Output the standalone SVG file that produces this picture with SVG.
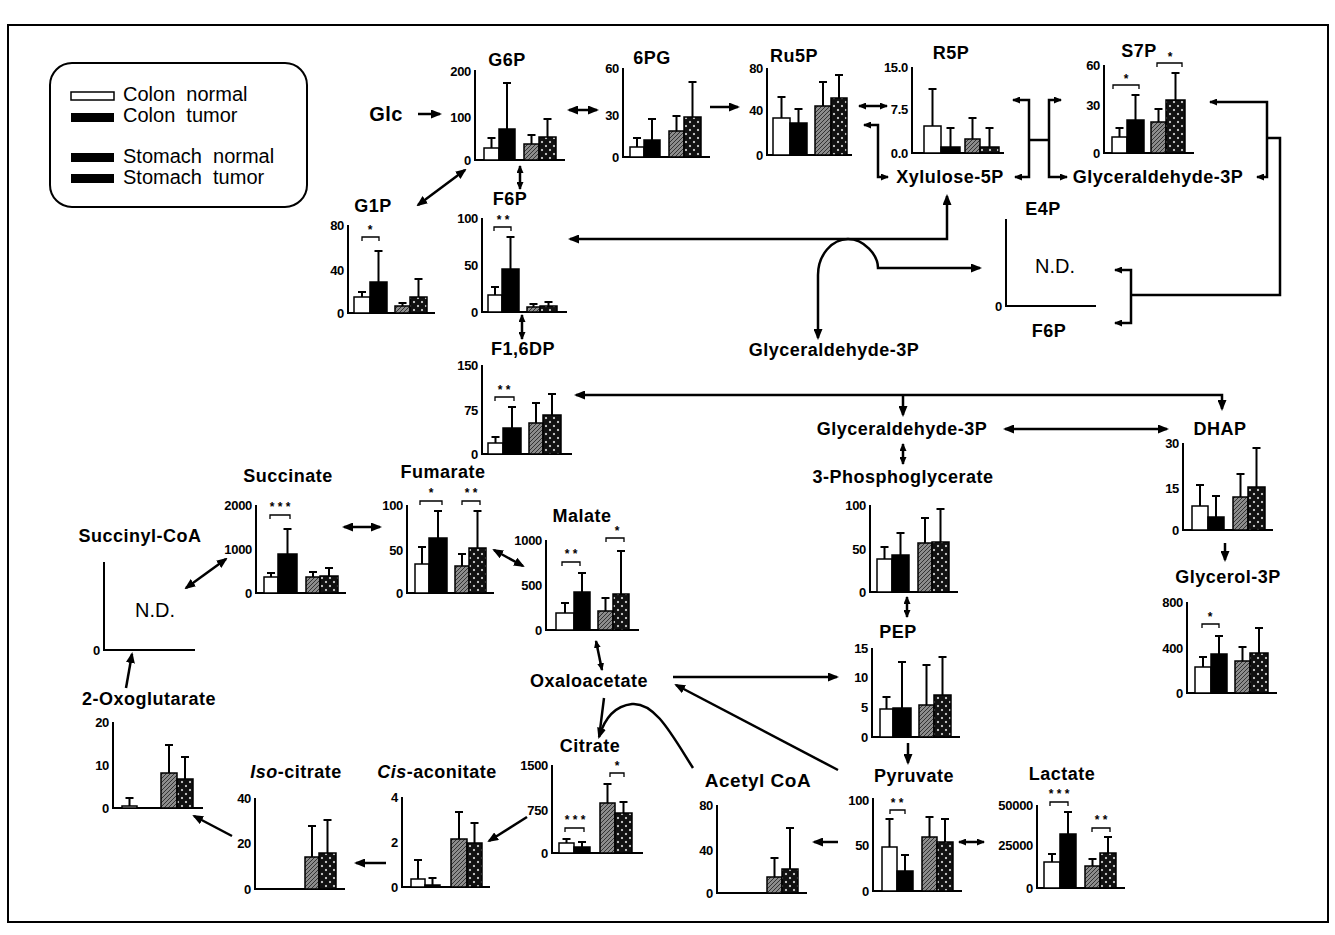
<svg xmlns="http://www.w3.org/2000/svg" width="1335" height="935" viewBox="0 0 1335 935">
<style>
text{font-family:"Liberation Sans",Arial,sans-serif;fill:#000}
.ax{fill:none;stroke:#000;stroke-width:2}
.tk{font-size:13px;font-weight:bold;text-anchor:end;letter-spacing:-0.3px}
.tt{font-size:18px;font-weight:bold;text-anchor:middle;letter-spacing:0.5px}
.w{fill:#fff;stroke:#000;stroke-width:1.5}
.b{fill:#000;stroke:#000;stroke-width:1.5}
.g{fill:url(#ph);stroke:#000;stroke-width:1.5}
.d{fill:url(#pd);stroke:#000;stroke-width:1.5}
.e{fill:none;stroke:#000;stroke-width:2}
.sg{fill:none;stroke:#000;stroke-width:1.3}
.st{font-size:12px;font-weight:bold;text-anchor:middle}
.nd{font-size:20px;text-anchor:middle}
.cn{fill:none;stroke:#000;stroke-width:2.5}
.c1{marker-end:url(#ah)}
.c2{marker-start:url(#ah);marker-end:url(#ah)}
.s2{marker-start:url(#as);marker-end:url(#as)}
.lg{font-size:20px}
</style>
<defs>
<marker id="ah" markerUnits="userSpaceOnUse" markerWidth="11" markerHeight="9" refX="9" refY="4.5" orient="auto-start-reverse"><path d="M0,0 L11,4.5 L0,9 z" fill="#000"/></marker>
<marker id="as" markerUnits="userSpaceOnUse" markerWidth="8" markerHeight="7" refX="7" refY="3.5" orient="auto-start-reverse"><path d="M0,0 L8,3.5 L0,7 z" fill="#000"/></marker>
<pattern id="ph" width="4" height="4" patternUnits="userSpaceOnUse"><rect width="4" height="4" fill="#8c8c8c"/><path d="M0,4 L4,0" stroke="#333" stroke-width="1"/></pattern>
<pattern id="pd" width="8" height="8" patternUnits="userSpaceOnUse"><rect width="8" height="8" fill="#111"/><path d="M2,0.8 L3.2,2 L2,3.2 L0.8,2z M6,4.8 L7.2,6 L6,7.2 L4.8,6z" fill="#fff"/></pattern>
</defs>
<rect width="1335" height="935" fill="#fff"/>
<rect x="8" y="25" width="1320" height="897" fill="none" stroke="#000" stroke-width="2"/>

<g id="legend">
<rect x="50" y="63" width="257" height="144" rx="22" fill="none" stroke="#000" stroke-width="2"/>
<rect x="71" y="92" width="43" height="8" class="w"/>
<rect x="71" y="113" width="43" height="9" fill="#000"/>
<rect x="71" y="153" width="43" height="9" fill="#000"/>
<rect x="71" y="174" width="43" height="9" fill="#000"/>
<text x="123" y="101" class="lg" xml:space="preserve">Colon  normal</text>
<text x="123" y="122" class="lg" xml:space="preserve">Colon  tumor</text>
<text x="123" y="163" class="lg" xml:space="preserve">Stomach  normal</text>
<text x="123" y="184" class="lg" xml:space="preserve">Stomach  tumor</text>
</g>

<g id="connectors">
<path class="cn c1" d="M418,114 H440"/>
<path class="cn c2" d="M569,110 H597"/>
<path class="cn c1" d="M710,107 H738"/>
<path class="cn s2" d="M859,106 H887"/>
<path class="cn s2" d="M864,125 H878 V177 H888"/>
<path class="cn s2" d="M1013,100 H1029 V177 H1015"/>
<path class="cn" d="M1029,140 H1049"/>
<path class="cn s2" d="M1061,100 H1049 V177 H1067"/>
<path class="cn s2" d="M1210,102 H1267 V177 H1257"/>
<path class="cn" d="M1267,138 H1280 V295 H1131"/>
<path class="cn s2" d="M1115,270 H1131 V323 H1115"/>
<path class="cn c2" d="M947,196 V239 H570"/>
<path class="cn c2" d="M818,338 V275 C818,255 832,239 848,239 C864,239 878,255 878,268 H980"/>
<path class="cn c2" d="M465,170 L418,205"/>
<path class="cn s2" d="M520,166 V189"/>
<path class="cn s2" d="M522,315 V339"/>
<path class="cn c2" d="M1222,409 V395 H576"/>
<path class="cn c1" d="M903,395 V415"/>
<path class="cn c2" d="M1005,429 H1167"/>
<path class="cn s2" d="M903,444 V464"/>
<path class="cn c1" d="M1225,543 V560"/>
<path class="cn s2" d="M907,597 V617"/>
<path class="cn c1" d="M673,677 H837"/>
<path class="cn c1" d="M908,743 V763"/>
<path class="cn c1" d="M838,770 L676,685"/>
<path class="cn s2" d="M959,842 H984"/>
<path class="cn c1" d="M838,842 H814"/>
<path class="cn c1" d="M693,768 C672,735 655,702 632,704 C614,706 604,720 599,737"/>
<path class="cn" d="M604,698 L600,730"/>
<path class="cn s2" d="M596,641 L602,670"/>
<path class="cn c2" d="M494,550 L523,566"/>
<path class="cn c2" d="M344,527 H380"/>
<path class="cn c2" d="M186,588 L226,559"/>
<path class="cn c1" d="M126,688 L132,654"/>
<path class="cn c1" d="M232,836 L194,816"/>
<path class="cn c1" d="M386,863 H356"/>
<path class="cn c1" d="M527,817 L489,841"/>
</g>

<g id="glc"><text x="386" y="121" class="tt" style="font-size:20px">Glc</text></g>

<g id="g6p">
<text x="507" y="66" class="tt">G6P</text>
<path class="ax" d="M475,70 V160 H565"/>
<text x="471" y="76" class="tk">200</text><text x="471" y="122" class="tk">100</text><text x="471" y="165" class="tk">0</text>
<rect class="w" x="484" y="148" width="15" height="12"/><rect class="b" x="499" y="129" width="16" height="31"/><rect class="g" x="524" y="144" width="15" height="16"/><rect class="d" x="539" y="137" width="17" height="23"/>
<path class="e" d="M491.5,148V138M487.5,138H495.5 M507,129V83M503,83H511 M531.5,144V135M527.5,135H535.5 M547.5,137V119M543.5,119H551.5"/>
</g>

<g id="pg6">
<text x="652" y="64" class="tt">6PG</text>
<path class="ax" d="M623,68 V157 H710"/>
<text x="619" y="73" class="tk">60</text><text x="619" y="120" class="tk">30</text><text x="619" y="162" class="tk">0</text>
<rect class="w" x="630" y="147" width="14" height="10"/><rect class="b" x="644" y="140" width="16" height="17"/><rect class="g" x="669" y="131" width="15" height="26"/><rect class="d" x="684" y="117" width="17" height="40"/>
<path class="e" d="M637,147V138M633,138H641 M652,140V119M648,119H656 M676.5,131V116M672.5,116H680.5 M692.5,117V82M688.5,82H696.5"/>
</g>

<g id="ru5p">
<text x="794" y="62" class="tt">Ru5P</text>
<path class="ax" d="M767,68 V155 H852"/>
<text x="763" y="73" class="tk">80</text><text x="763" y="115" class="tk">40</text><text x="763" y="160" class="tk">0</text>
<rect class="w" x="773" y="118" width="17" height="37"/><rect class="b" x="790" y="123" width="17" height="32"/><rect class="g" x="815" y="106" width="16" height="49"/><rect class="d" x="831" y="98" width="16" height="57"/>
<path class="e" d="M781.5,118V97M777.5,97H785.5 M798.5,123V109M794.5,109H802.5 M823,106V82M819,82H827 M839,98V75M835,75H843"/>
</g>

<g id="r5p">
<text x="951" y="59" class="tt">R5P</text>
<path class="ax" d="M912,67 V153 H1004"/>
<text x="908" y="72" class="tk">15.0</text><text x="908" y="114" class="tk">7.5</text><text x="908" y="158" class="tk">0.0</text>
<rect class="w" x="924" y="126" width="17" height="27"/><rect class="b" x="941" y="147" width="19" height="6"/><rect class="g" x="965" y="139" width="15" height="14"/><rect class="d" x="980" y="147" width="19" height="6"/>
<path class="e" d="M932.5,126V89M928.5,89H936.5 M950.5,147V128M946.5,128H954.5 M972.5,139V118M968.5,118H976.5 M989.5,147V128M985.5,128H993.5"/>
</g>

<g id="s7p">
<text x="1139" y="57" class="tt">S7P</text>
<path class="ax" d="M1104,65 V153 H1194"/>
<text x="1100" y="70" class="tk">60</text><text x="1100" y="110" class="tk">30</text><text x="1100" y="158" class="tk">0</text>
<rect class="w" x="1112" y="137" width="15" height="16"/><rect class="b" x="1127" y="120" width="17" height="33"/><rect class="g" x="1151" y="122" width="15" height="31"/><rect class="d" x="1166" y="100" width="19" height="53"/>
<path class="e" d="M1119.5,137V128M1115.5,128H1123.5 M1135.5,120V95M1131.5,95H1139.5 M1158.5,122V109M1154.5,109H1162.5 M1175.5,100V73M1171.5,73H1179.5"/>
<path class="sg" d="M1113,89 V85 H1139 V89 M1157,67 V63 H1182 V67"/>
<text x="1126" y="83" class="st">*</text><text x="1170" y="61" class="st">*</text>
</g>

<g id="xylulose5p"><text x="950" y="183" class="tt">Xylulose-5P</text></g>
<g id="gap-top"><text x="1158" y="183" class="tt">Glyceraldehyde-3P</text></g>

<g id="e4p-f6p">
<text x="1043" y="215" class="tt">E4P</text>
<path class="ax" d="M1006,219 V306 H1096"/>
<text x="1002" y="311" class="tk">0</text>
<text x="1055" y="273" class="nd">N.D.</text>
<text x="1049" y="337" class="tt">F6P</text>
</g>

<g id="gap-mid"><text x="834" y="356" class="tt">Glyceraldehyde-3P</text></g>

<g id="g1p">
<text x="373" y="212" class="tt">G1P</text>
<path class="ax" d="M348,225 V313 H435"/>
<text x="344" y="230" class="tk">80</text><text x="344" y="275" class="tk">40</text><text x="344" y="318" class="tk">0</text>
<rect class="w" x="354" y="297" width="16" height="16"/><rect class="b" x="370" y="282" width="17" height="31"/><rect class="g" x="395" y="306" width="15" height="7"/><rect class="d" x="410" y="297" width="17" height="16"/>
<path class="e" d="M362,297V292M358,292H366 M378.5,282V251M374.5,251H382.5 M402.5,306V303M398.5,303H406.5 M418.5,297V279M414.5,279H422.5"/>
<path class="sg" d="M362,241 V237 H379 V241"/>
<text x="370" y="234" class="st">*</text>
</g>

<g id="f6p">
<text x="510" y="205" class="tt">F6P</text>
<path class="ax" d="M482,218 V312 H567"/>
<text x="478" y="223" class="tk">100</text><text x="478" y="270" class="tk">50</text><text x="478" y="317" class="tk">0</text>
<rect class="w" x="488" y="295" width="14" height="17"/><rect class="b" x="502" y="269" width="17" height="43"/><rect class="g" x="527" y="307" width="13" height="5"/><rect class="d" x="540" y="306" width="17" height="6"/>
<path class="e" d="M495,295V287M491,287H499 M510.5,269V237M506.5,237H514.5 M533.5,307V304M529.5,304H537.5 M548.5,306V302M544.5,302H552.5"/>
<path class="sg" d="M494,231 V227 H511 V231"/>
<text x="503" y="224" class="st">* *</text>
</g>

<g id="f16dp">
<text x="523" y="355" class="tt">F1,6DP</text>
<path class="ax" d="M482,365 V454 H572"/>
<text x="478" y="370" class="tk">150</text><text x="478" y="415" class="tk">75</text><text x="478" y="459" class="tk">0</text>
<rect class="w" x="488" y="443" width="15" height="11"/><rect class="b" x="503" y="428" width="18" height="26"/><rect class="g" x="529" y="423" width="14" height="31"/><rect class="d" x="543" y="415" width="18" height="39"/>
<path class="e" d="M495.5,443V437M491.5,437H499.5 M512,428V407M508,407H516 M536,423V403M532,403H540 M552,415V394M548,394H556"/>
<path class="sg" d="M495,401 V397 H514 V401"/>
<text x="504" y="394" class="st">* *</text>
</g>

<g id="gap-glyc"><text x="902" y="435" class="tt">Glyceraldehyde-3P</text></g>

<g id="dhap">
<text x="1220" y="435" class="tt">DHAP</text>
<path class="ax" d="M1183,443 V530 H1273"/>
<text x="1179" y="448" class="tk">30</text><text x="1179" y="493" class="tk">15</text><text x="1179" y="535" class="tk">0</text>
<rect class="w" x="1192" y="506" width="16" height="24"/><rect class="b" x="1208" y="517" width="16" height="13"/><rect class="g" x="1233" y="497" width="15" height="33"/><rect class="d" x="1248" y="487" width="17" height="43"/>
<path class="e" d="M1200,506V485M1196,485H1204 M1216,517V496M1212,496H1220 M1240.5,497V474M1236.5,474H1244.5 M1256.5,487V448M1252.5,448H1260.5"/>
</g>

<g id="glycerol3p">
<text x="1228" y="583" class="tt">Glycerol-3P</text>
<path class="ax" d="M1187,602 V693 H1277"/>
<text x="1183" y="607" class="tk">800</text><text x="1183" y="653" class="tk">400</text><text x="1183" y="698" class="tk">0</text>
<rect class="w" x="1195" y="667" width="16" height="26"/><rect class="b" x="1211" y="654" width="16" height="39"/><rect class="g" x="1235" y="661" width="15" height="32"/><rect class="d" x="1250" y="653" width="18" height="40"/>
<path class="e" d="M1203,667V657M1199,657H1207 M1219,654V636M1215,636H1223 M1242.5,661V647M1238.5,647H1246.5 M1259,653V628M1255,628H1263"/>
<path class="sg" d="M1202,628 V624 H1219 V628"/>
<text x="1210" y="621" class="st">*</text>
</g>

<g id="pga3">
<text x="903" y="483" class="tt">3-Phosphoglycerate</text>
<path class="ax" d="M870,505 V592 H958"/>
<text x="866" y="510" class="tk">100</text><text x="866" y="554" class="tk">50</text><text x="866" y="597" class="tk">0</text>
<rect class="w" x="877" y="559" width="15" height="33"/><rect class="b" x="892" y="555" width="17" height="37"/><rect class="g" x="918" y="543" width="14" height="49"/><rect class="d" x="932" y="542" width="17" height="50"/>
<path class="e" d="M884.5,559V547M880.5,547H888.5 M900.5,555V533M896.5,533H904.5 M925,543V518M921,518H929 M940.5,542V509M936.5,509H944.5"/>
</g>

<g id="pep">
<text x="898" y="638" class="tt">PEP</text>
<path class="ax" d="M872,648 V737 H960"/>
<text x="868" y="653" class="tk">15</text><text x="868" y="682" class="tk">10</text><text x="868" y="712" class="tk">5</text><text x="868" y="742" class="tk">0</text>
<rect class="w" x="880" y="709" width="13" height="28"/><rect class="b" x="893" y="708" width="18" height="29"/><rect class="g" x="919" y="705" width="15" height="32"/><rect class="d" x="934" y="695" width="17" height="42"/>
<path class="e" d="M886.5,709V697M882.5,697H890.5 M902,708V662M898,662H906 M926.5,705V665M922.5,665H930.5 M942.5,695V657M938.5,657H946.5"/>
</g>

<g id="oxaloacetate"><text x="589" y="687" class="tt">Oxaloacetate</text></g>

<g id="pyruvate">
<text x="914" y="782" class="tt">Pyruvate</text>
<path class="ax" d="M873,798 V891 H962"/>
<text x="869" y="805" class="tk">100</text><text x="869" y="850" class="tk">50</text><text x="869" y="896" class="tk">0</text>
<rect class="w" x="882" y="847" width="15" height="44"/><rect class="b" x="897" y="871" width="16" height="20"/><rect class="g" x="922" y="837" width="15" height="54"/><rect class="d" x="937" y="842" width="16" height="49"/>
<path class="e" d="M889.5,847V819M885.5,819H893.5 M905,871V855M901,855H909 M929.5,837V817M925.5,817H933.5 M945,842V819M941,819H949"/>
<path class="sg" d="M890,814 V810 H905 V814"/>
<text x="897" y="807" class="st">* *</text>
</g>

<g id="lactate">
<text x="1062" y="780" class="tt">Lactate</text>
<path class="ax" d="M1037,805 V888 H1125"/>
<text x="1033" y="810" class="tk">50000</text><text x="1033" y="850" class="tk">25000</text><text x="1033" y="893" class="tk">0</text>
<rect class="w" x="1044" y="862" width="16" height="26"/><rect class="b" x="1060" y="834" width="16" height="54"/><rect class="g" x="1085" y="866" width="15" height="22"/><rect class="d" x="1100" y="853" width="16" height="35"/>
<path class="e" d="M1052,862V854M1048,854H1056 M1068,834V812M1064,812H1072 M1092.5,866V859M1088.5,859H1096.5 M1108,853V837M1104,837H1112"/>
<path class="sg" d="M1050,806 V802 H1068 V806 M1092,832 V828 H1110 V832"/>
<text x="1059" y="798" class="st">* * *</text><text x="1101" y="824" class="st">* *</text>
</g>

<g id="acetylcoa">
<text x="758" y="787" class="tt" style="font-size:19px">Acetyl CoA</text>
<path class="ax" d="M717,805 V893 H807"/>
<text x="713" y="810" class="tk">80</text><text x="713" y="855" class="tk">40</text><text x="713" y="898" class="tk">0</text>
<rect class="g" x="767" y="877" width="15" height="16"/><rect class="d" x="782" y="869" width="16" height="24"/>
<path class="e" d="M774.5,877V858M770.5,858H778.5 M790,869V828M786,828H794"/>
</g>

<g id="citrate">
<text x="590" y="752" class="tt">Citrate</text>
<path class="ax" d="M552,765 V853 H643"/>
<text x="548" y="770" class="tk">1500</text><text x="548" y="815" class="tk">750</text><text x="548" y="858" class="tk">0</text>
<rect class="w" x="559" y="843" width="15" height="10"/><rect class="b" x="574" y="847" width="16" height="6"/><rect class="g" x="600" y="803" width="15" height="50"/><rect class="d" x="615" y="813" width="17" height="40"/>
<path class="e" d="M566.5,843V839M562.5,839H570.5 M582,847V842M578,842H586 M607.5,803V784M603.5,784H611.5 M623.5,813V802M619.5,802H627.5"/>
<path class="sg" d="M565,832 V828 H584 V832 M610,777 V773 H624 V777"/>
<text x="575" y="824" class="st">* * *</text><text x="617" y="770" class="st">*</text>
</g>

<g id="cisaconitate">
<text x="437" y="778" class="tt"><tspan font-style="italic">Cis</tspan>-aconitate</text>
<path class="ax" d="M402,797 V887 H490"/>
<text x="398" y="802" class="tk">4</text><text x="398" y="847" class="tk">2</text><text x="398" y="892" class="tk">0</text>
<rect class="w" x="411" y="879" width="14" height="8"/><rect class="b" x="425" y="885" width="15" height="2"/><rect class="g" x="451" y="839" width="16" height="48"/><rect class="d" x="467" y="843" width="15" height="44"/>
<path class="e" d="M418,879V860M414,860H422 M432.5,885V878M428.5,878H436.5 M459,839V812M455,812H463 M474.5,843V823M470.5,823H478.5"/>
</g>

<g id="isocitrate">
<text x="296" y="778" class="tt"><tspan font-style="italic">Iso</tspan>-citrate</text>
<path class="ax" d="M255,798 V889 H345"/>
<text x="251" y="803" class="tk">40</text><text x="251" y="848" class="tk">20</text><text x="251" y="894" class="tk">0</text>
<rect class="g" x="305" y="857" width="14" height="32"/><rect class="d" x="319" y="853" width="17" height="36"/>
<path class="e" d="M312,857V826M308,826H316 M327.5,853V820M323.5,820H331.5"/>
</g>

<g id="oxoglutarate">
<text x="149" y="705" class="tt">2-Oxoglutarate</text>
<path class="ax" d="M113,722 V808 H203"/>
<text x="109" y="727" class="tk">20</text><text x="109" y="770" class="tk">10</text><text x="109" y="813" class="tk">0</text>
<rect class="w" x="122" y="806" width="15" height="2"/><rect class="g" x="161" y="773" width="16" height="35"/><rect class="d" x="177" y="779" width="16" height="29"/>
<path class="e" d="M129.5,806V798M125.5,798H133.5 M169,773V745M165,745H173 M185,779V757M181,757H189"/>
</g>

<g id="succinylcoa">
<text x="140" y="542" class="tt">Succinyl-CoA</text>
<path class="ax" d="M104,562 V650 H195"/>
<text x="100" y="655" class="tk">0</text>
<text x="155" y="617" class="nd">N.D.</text>
</g>

<g id="succinate">
<text x="288" y="482" class="tt">Succinate</text>
<path class="ax" d="M256,505 V593 H346"/>
<text x="252" y="510" class="tk">2000</text><text x="252" y="554" class="tk">1000</text><text x="252" y="598" class="tk">0</text>
<rect class="w" x="264" y="577" width="14" height="16"/><rect class="b" x="278" y="554" width="19" height="39"/><rect class="g" x="306" y="577" width="14" height="16"/><rect class="d" x="320" y="576" width="18" height="17"/>
<path class="e" d="M271,577V573M267,573H275 M287.5,554V529M283.5,529H291.5 M313,577V572M309,572H317 M329,576V568M325,568H333"/>
<path class="sg" d="M270,519 V515 H290 V519"/>
<text x="280" y="511" class="st">* * *</text>
</g>

<g id="fumarate">
<text x="443" y="478" class="tt">Fumarate</text>
<path class="ax" d="M407,505 V593 H494"/>
<text x="403" y="510" class="tk">100</text><text x="403" y="555" class="tk">50</text><text x="403" y="598" class="tk">0</text>
<rect class="w" x="415" y="564" width="14" height="29"/><rect class="b" x="429" y="538" width="18" height="55"/><rect class="g" x="455" y="566" width="14" height="27"/><rect class="d" x="469" y="548" width="17" height="45"/>
<path class="e" d="M422,564V547M418,547H426 M438,538V511M434,511H442 M462,566V554M458,554H466 M477.5,548V511M473.5,511H481.5"/>
<path class="sg" d="M420,505 V501 H442 V505 M462,505 V501 H480 V505"/>
<text x="431" y="497" class="st">*</text><text x="471" y="497" class="st">* *</text>
</g>

<g id="malate">
<text x="582" y="522" class="tt">Malate</text>
<path class="ax" d="M546,540 V630 H639"/>
<text x="542" y="545" class="tk">1000</text><text x="542" y="590" class="tk">500</text><text x="542" y="635" class="tk">0</text>
<rect class="w" x="556" y="613" width="18" height="17"/><rect class="b" x="574" y="592" width="16" height="38"/><rect class="g" x="598" y="611" width="15" height="19"/><rect class="d" x="613" y="594" width="16" height="36"/>
<path class="e" d="M565,613V603M561,603H569 M582,592V573M578,573H586 M605.5,611V598M601.5,598H609.5 M621,594V551M617,551H625"/>
<path class="sg" d="M562,566 V562 H580 V566 M606,542 V538 H624 V542"/>
<text x="571" y="558" class="st">* *</text><text x="617" y="535" class="st">*</text>
</g>
</svg>
